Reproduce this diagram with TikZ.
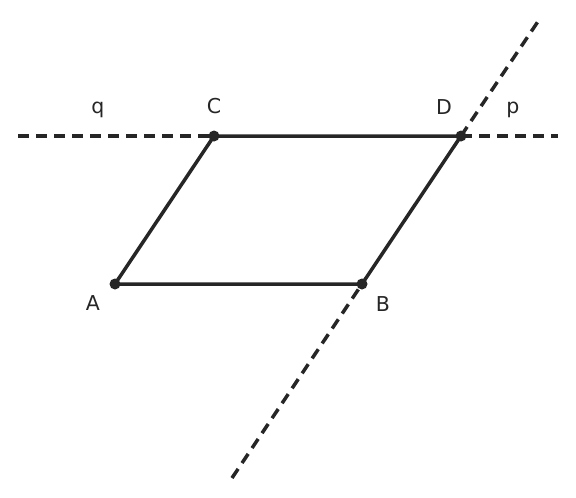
\documentclass[tikz,border=0pt]{standalone}
\usepackage{fontspec}
\setmainfont{DejaVu Sans}
\begin{document}
\begin{tikzpicture}[x=1pt,y=-1pt,
  ink/.style={draw=black!85, line width=3.5pt},
  dline/.style={ink, dash pattern=on 11pt off 7pt},
  pt/.style={circle, fill=black!85, inner sep=0pt, minimum size=11pt},
  lbl/.style={anchor=base, font=\fontsize{20.5}{24}\selectfont, text=black!85, inner sep=0pt}]
\useasboundingbox (0,0) rectangle (576,498);
\coordinate (A) at (115,284);
\coordinate (B) at (362,284);
\coordinate (C) at (214,136);
\coordinate (D) at (461,136);
\coordinate (q1) at (18,136);
\coordinate (q2) at (558,136);
\coordinate (p1) at (232,478);
\coordinate (p2) at (541,17);
\draw[dline] (q1) -- (C);
\draw[dline] (D) -- (q2);
\draw[dline] (p1) -- (B);
\draw[dline] (D) -- (p2);
\draw[ink] (A) -- (B) -- (D) -- (C) -- cycle;
\foreach \P in {A,B,C,D} \node[pt] at (\P) {};
\node[lbl] (lq) at (98,113) {q};
\node[lbl] (lC) at (214,113) {C};
\node[lbl] (lD) at (444,114) {D};
\node[lbl] (lp) at (513,113) {p};
\node[lbl] (lA) at (93,310) {A};
\node[lbl] (lB) at (383,311) {B};
\end{tikzpicture}
\end{document}
